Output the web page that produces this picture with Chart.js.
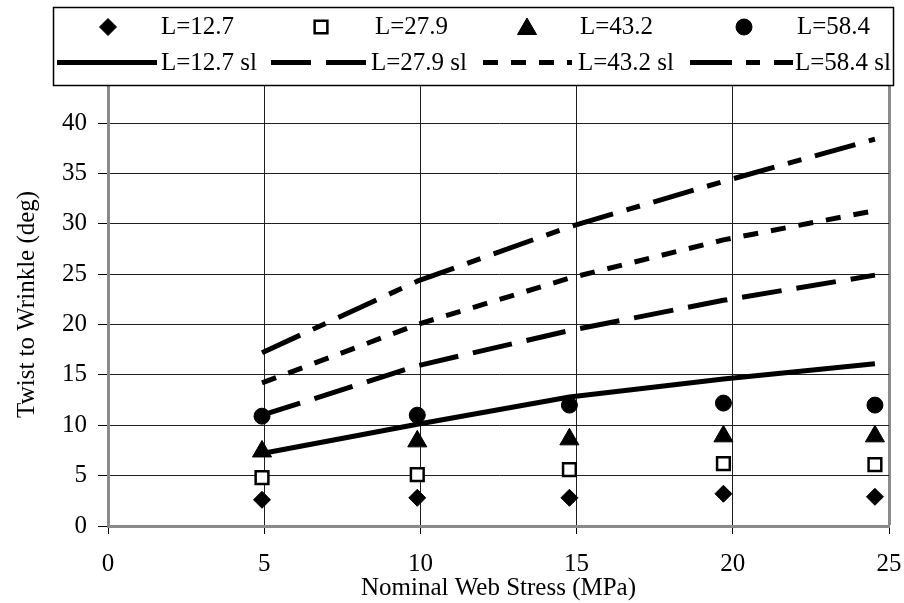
<!DOCTYPE html>
<html>
<head>
<meta charset="utf-8">
<script src="https://cdn.jsdelivr.net/npm/chart.js@4.4.1/dist/chart.umd.min.js"></script>
<style>
html,body{margin:0;padding:0;background:#fff;}
#wrap{width:904px;height:603px;position:relative;}
</style>
</head>
<body>
<div id="wrap"><canvas id="c" width="904" height="603"></canvas></div>
<script>
// ---- data ----
const stress = [4.93, 9.9, 14.77, 19.7, 24.55];           // Nominal Web Stress (MPa)
const ptLabels = ['L=12.7', 'L=27.9', 'L=43.2', 'L=58.4'];
const slLabels = ['L=12.7 sl', 'L=27.9 sl', 'L=43.2 sl', 'L=58.4 sl'];
const pts127 = [2.6, 2.8, 2.8, 3.2, 2.9];
const pts279 = [4.8, 5.1, 5.6, 6.2, 6.1];
const pts432 = [7.4, 8.4, 8.6, 8.9, 8.9];
const pts584 = [10.9, 11.0, 12.0, 12.2, 12.0];
const sl127 = [7.2, 10.1, 12.8, 14.6, 16.1];
const sl279 = [11.0, 15.9, 19.4, 22.4, 24.9];
const sl432 = [14.2, 20.0, 24.6, 28.4, 31.3];
const sl584 = [17.2, 24.3, 29.7, 34.2, 38.4];
const xTickValues = [0, 5, 10, 15, 20, 25];
const yTickValues = [0, 5, 10, 15, 20, 25, 30, 35, 40];
const xTitle = 'Nominal Web Stress (MPa)';
const yTitle = 'Twist to Wrinkle (deg)';

const FONT = '"Liberation Serif", "Times New Roman", serif';
const toXY = ys => ys.map((y, i) => ({x: stress[i], y: y}));

function pointSet(label, ys, style, radius, fill, bw) {
  return {
    type: 'scatter', label: label, data: toXY(ys), showLine: false,
    pointStyle: style, pointRadius: radius, pointHoverRadius: radius,
    pointBackgroundColor: fill, pointBorderColor: '#000', pointBorderWidth: bw,
    order: 2
  };
}
function lineSet(label, ys, dash) {
  return {
    type: 'scatter', label: label, data: toXY(ys), showLine: true,
    borderColor: '#000', borderWidth: 5, borderDash: dash, borderCapStyle: 'butt',
    borderJoinStyle: 'round', tension: 0, pointRadius: 0, pointHoverRadius: 0,
    fill: false, order: 1
  };
}

const datasets = [
  pointSet(ptLabels[0], pts127, 'rectRot', 8.5, '#000', 1),
  pointSet(ptLabels[1], pts279, 'rect', 9, '#fff', 2.5),
  pointSet(ptLabels[2], pts432, 'triangle', 11, '#000', 1),
  pointSet(ptLabels[3], pts584, 'circle', 8, '#000', 1),
  lineSet(slLabels[0], sl127, []),
  lineSet(slLabels[1], sl279, [40, 15]),
  lineSet(slLabels[2], sl432, [15, 13]),
  lineSet(slLabels[3], sl584, [42, 14, 14, 14])
];

const boxLegend = {
  id: 'boxLegend',
  afterDraw(chart) {
    const ctx = chart.ctx;
    const ds = chart.data.datasets;
    ctx.save();
    ctx.fillStyle = '#fff';
    ctx.fillRect(53, 7, 841, 78);
    ctx.strokeStyle = '#000';
    ctx.lineWidth = 1.5;
    ctx.setLineDash([]);
    ctx.strokeRect(53.5, 7.5, 840, 78);
    ctx.font = '25px ' + FONT;
    ctx.textBaseline = 'middle';
    ctx.textAlign = 'left';
    // row 1 : markers
    const mx = [108, 321, 527, 744];
    const tx1 = [161, 375, 580, 797];
    for (let i = 0; i < 4; i++) {
      const d = ds[i];
      ctx.fillStyle = d.pointBackgroundColor;
      ctx.strokeStyle = d.pointBorderColor;
      ctx.lineWidth = d.pointBorderWidth;
      Chart.helpers.drawPoint(ctx, {pointStyle: d.pointStyle, radius: d.pointRadius,
        borderWidth: d.pointBorderWidth, rotation: 0}, mx[i], d.pointStyle === 'triangle' ? 29 : 27);
      ctx.fillStyle = '#000';
      ctx.fillText(d.label, tx1[i], 27);
    }
    // row 2 : lines
    const lx = [[57, 157], [271, 370], [483, 572], [690, 793]];
    const tx2 = [161, 371, 578, 795];
    for (let i = 0; i < 4; i++) {
      const d = ds[4 + i];
      ctx.strokeStyle = d.borderColor;
      ctx.lineWidth = d.borderWidth;
      ctx.lineCap = 'butt';
      ctx.setLineDash(d.borderDash);
      ctx.beginPath();
      ctx.moveTo(lx[i][0], 62.5);
      ctx.lineTo(lx[i][1], 62.5);
      ctx.stroke();
      ctx.setLineDash([]);
      ctx.fillStyle = '#000';
      ctx.fillText(d.label, tx2[i], 63);
    }
    ctx.restore();
  }
};

new Chart(document.getElementById('c'), {
  type: 'scatter',
  data: {datasets: datasets},
  plugins: [boxLegend],
  options: {
    responsive: false,
    animation: false,
    events: [],
    layout: {padding: {left: 0, right: 15, top: 82.7, bottom: 0}},
    plugins: {legend: {display: false}, tooltip: {enabled: false}},
    scales: {
      x: {
        type: 'linear', position: 'bottom', min: 0, max: 25,
        afterBuildTicks: s => { s.ticks = xTickValues.map(v => ({value: v})); },
        afterFit: s => { s.height = 77; s.paddingRight = 15; s.paddingLeft = 0; },
        ticks: {color: '#000', font: {family: FONT, size: 25}, padding: 15, maxRotation: 0},
        grid: {
          color: c => (c.tick && c.tick.value === 25) ? '#8a8a8a' : ((c.tick && c.tick.value === 0) ? 'rgba(0,0,0,0)' : '#1e1e1e'),
          lineWidth: c => (c.tick && c.tick.value === 25) ? 3 : 1,
          tickColor: '#000', tickWidth: 1, tickLength: 8, drawTicks: true
        },
        border: {display: true, color: '#8a8a8a', width: 3},
        title: {display: true, text: xTitle, color: '#000', font: {family: FONT, size: 25},
          padding: {top: 0, bottom: 0}}
      },
      y: {
        type: 'linear', position: 'left', min: 0, max: 44, bounds: 'data',
        afterBuildTicks: s => { s.ticks = yTickValues.map(v => ({value: v})); },
        afterFit: s => { s.width = 108; },
        ticks: {color: '#000', font: {family: FONT, size: 25}, padding: 11},
        grid: {
          color: c => (c.tick && c.tick.value === 0) ? 'rgba(0,0,0,0)' : '#1e1e1e',
          lineWidth: 1,
          tickColor: '#000', tickWidth: 1, tickLength: 10, drawTicks: true
        },
        border: {display: true, color: '#8a8a8a', width: 3},
        title: {display: true, text: yTitle, color: '#000', font: {family: FONT, size: 25},
          padding: {top: 12, bottom: 0}}
      }
    }
  }
});
</script>
</body>
</html>
